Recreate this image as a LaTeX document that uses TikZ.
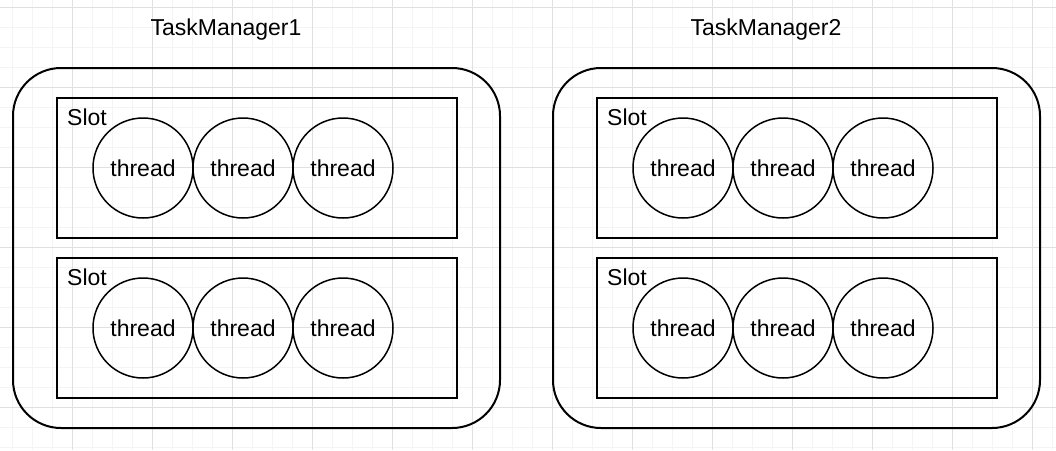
\documentclass[tikz,border=0pt]{standalone}
\usepackage{fontspec}
\setmainfont{Liberation Sans}
\usepackage{tikz}
\usetikzlibrary{positioning}

\definecolor{gridminor}{RGB}{244,244,244}
\definecolor{gridmajor}{RGB}{224,224,224}

\tikzset{
  minorline/.style={draw=gridminor, line width=1pt},
  majorline/.style={draw=gridmajor, line width=1pt},
  tmbox/.style={draw, line width=2pt, rounded corners=48pt, minimum width=487pt, minimum height=360pt, inner sep=0pt},
  slotbox/.style={draw, line width=2pt, minimum width=400pt, minimum height=140pt, inner sep=0pt},
  threadnode/.style={draw, circle, line width=1.5pt, minimum size=100pt, inner sep=0pt, font=\fontsize{23}{27}\selectfont},
  lbl/.style={inner sep=0pt, font=\fontsize{23}{27}\selectfont}
}

\begin{document}
\begin{tikzpicture}[x=1pt,y=1pt,yscale=-1]
\useasboundingbox (0,0) rectangle (1056,450);

%Grid: minor lines
\foreach \gx in {12,32,...,1052} \draw[minorline] (\gx,0) -- (\gx,450);
\foreach \gy in {7,27,...,447} \draw[minorline] (0,\gy) -- (1056,\gy);
%Grid: major lines
\foreach \gx in {72,152,...,1032} \draw[majorline] (\gx,0) -- (\gx,450);
\foreach \gy in {7,87,...,407} \draw[majorline] (0,\gy) -- (1056,\gy);

\foreach \tk/\dx in {1/0,2/540} {
  %Shape: Rounded Rect
  \node[tmbox] (tm\tk) at (256.5+\dx,248) {};
  % Text Node
  \node[lbl, anchor=base] (tmlabel\tk) at (226+\dx,35) {TaskManager\tk};
  \foreach \sk/\sy in {1/168,2/328} {
    %Shape: Rectangle
    \node[slotbox] (slot\tk\sk) at (257+\dx,\sy) {};
    % Text Node
    \node[lbl, anchor=base west] (slotlabel\tk\sk) at (67+\dx,\sy-43) {Slot};
    %Shape: Circle
    \foreach \ck/\cx in {1/143,2/243,3/343}
      \node[threadnode] (thread\tk\sk\ck) at (\cx+\dx,\sy) {thread};
  }
}

\end{tikzpicture}
\end{document}
